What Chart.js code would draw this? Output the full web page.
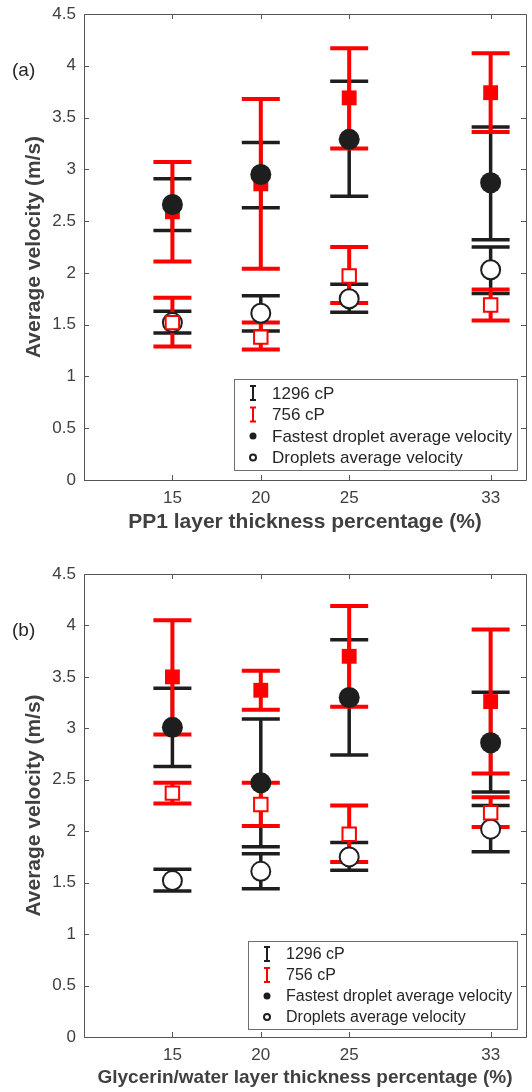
<!DOCTYPE html>
<html>
<head>
<meta charset="utf-8">
<script src="https://cdn.jsdelivr.net/npm/chart.js@4.4.0/dist/chart.umd.min.js"></script>
<style>
html, body { margin: 0; padding: 0; background: #fff; }
.panel { width: 532px; height: 546px; }
canvas { display: block; }
</style>
</head>
<body>
<div class="panel"><canvas id="chartA" width="532" height="546"></canvas></div>
<div class="panel"><canvas id="chartB" width="532" height="546"></canvas></div>
<script>
// x positions (layer thickness %) and axis ticks
const thickness = [15, 20, 25, 33];
const xTickValues = [15, 20, 25, 33];
const yTickStep = 0.5;

// panel (a): PP1 layer
const fastBlackA = [2.66, 2.95, 3.29, 2.87];
const fastBlackALow = [2.41, 2.63, 2.74, 2.32];
const fastBlackAHigh = [2.91, 3.26, 3.85, 3.41];
const fastRedA = [2.59, 2.86, 3.69, 3.74];
const fastRedALow = [2.11, 2.04, 3.20, 3.36];
const fastRedAHigh = [3.07, 3.68, 4.17, 4.12];
const avgBlackA = [1.52, 1.61, 1.75, 2.03];
const avgBlackALow = [1.42, 1.44, 1.62, 1.80];
const avgBlackAHigh = [1.63, 1.78, 1.89, 2.25];
const avgRedA = [1.52, 1.38, 1.97, 1.69];
const avgRedALow = [1.29, 1.26, 1.71, 1.54];
const avgRedAHigh = [1.76, 1.52, 2.25, 1.84];

// panel (b): glycerin/water layer
const fastBlackB = [3.01, 2.47, 3.30, 2.86];
const fastBlackBLow = [2.63, 1.85, 2.74, 2.38];
const fastBlackBHigh = [3.39, 3.09, 3.86, 3.35];
const fastRedB = [3.50, 3.37, 3.70, 3.26];
const fastRedBLow = [2.94, 3.18, 3.21, 2.56];
const fastRedBHigh = [4.05, 3.56, 4.19, 3.96];
const avgBlackB = [1.52, 1.61, 1.75, 2.02];
const avgBlackBLow = [1.42, 1.44, 1.62, 1.80];
const avgBlackBHigh = [1.63, 1.78, 1.89, 2.25];
const avgRedB = [2.37, 2.26, 1.97, 2.18];
const avgRedBLow = [2.27, 2.05, 1.70, 2.04];
const avgRedBHigh = [2.47, 2.47, 2.25, 2.33];

const legendLabels = ["1296 cP", "756 cP", "Fastest droplet average velocity", "Droplets average velocity"];
const legendKinds = ["errBlack", "errRed", "dot", "ring"];

const BLACK = "#1e1e1e";
const RED = "#ff0000";
const TEXT = "#404040";
const FONT = '"Liberation Sans", Arial, Helvetica, sans-serif';

function pts(vals) {
    return vals.map((v, i) => ({ x: thickness[i], y: v }));
}

// error bars go under every marker, black first then red
const errorBarPlugin = {
    id: "errorBars",
    beforeDatasetsDraw(chart) {
        const { ctx, scales: { x, y } } = chart;
        const sets = chart.data.datasets.filter(d => d.errLow).sort((a, b) => a.errLayer - b.errLayer);
        ctx.save();
        ctx.lineCap = "butt";
        for (const ds of sets) {
            ctx.strokeStyle = ds.borderColor;
            ctx.lineWidth = ds.errWidth;
            ds.data.forEach((p, i) => {
                const px = x.getPixelForValue(p.x);
                const top = y.getPixelForValue(ds.errHigh[i]);
                const bot = y.getPixelForValue(ds.errLow[i]);
                ctx.beginPath();
                ctx.moveTo(px, top);
                ctx.lineTo(px, bot);
                ctx.moveTo(px - 19, top);
                ctx.lineTo(px + 19, top);
                ctx.moveTo(px - 19, bot);
                ctx.lineTo(px + 19, bot);
                ctx.stroke();
            });
        }
        ctx.restore();
    }
};

// box with inward ticks on all four sides, like the matlab axes
const framePlugin = {
    id: "frame",
    afterDatasetsDraw(chart) {
        const { ctx, chartArea: a, scales: { x, y } } = chart;
        ctx.save();
        ctx.strokeStyle = "#555";
        ctx.lineWidth = 1;
        ctx.beginPath();
        ctx.rect(Math.round(a.left) + 0.5, Math.round(a.top) + 0.5, Math.round(a.right - a.left), Math.round(a.bottom - a.top));
        for (const t of x.ticks) {
            const px = Math.round(x.getPixelForValue(t.value)) + 0.5;
            ctx.moveTo(px, a.bottom);
            ctx.lineTo(px, a.bottom - 5);
            ctx.moveTo(px, a.top);
            ctx.lineTo(px, a.top + 5);
        }
        for (const t of y.ticks) {
            const py = Math.round(y.getPixelForValue(t.value)) + 0.5;
            ctx.moveTo(a.left, py);
            ctx.lineTo(a.left + 5, py);
            ctx.moveTo(a.right, py);
            ctx.lineTo(a.right - 5, py);
        }
        ctx.stroke();
        ctx.restore();
    }
};

const legendPlugin = {
    id: "boxLegend",
    afterDraw(chart, args, opts) {
        const { ctx, chartArea } = chart;
        ctx.save();
        ctx.font = `${opts.fontSize}px ${FONT}`;
        const textW = Math.max(...legendLabels.map(t => ctx.measureText(t).width));
        const w = Math.round(38 + textW + 5);
        const h = opts.height;
        const left = Math.round(chartArea.right - opts.right - w);
        const top = Math.round(chartArea.bottom - opts.bottom - h);
        ctx.fillStyle = "#fff";
        ctx.fillRect(left, top, w, h);
        ctx.strokeStyle = "#6e6e6e";
        ctx.lineWidth = 1;
        ctx.strokeRect(left + 0.5, top + 0.5, w, h);
        legendLabels.forEach((label, i) => {
            const cy = top + opts.firstRow + i * opts.rowGap;
            const ix = left + 19;
            const kind = legendKinds[i];
            if (kind === "errBlack" || kind === "errRed") {
                ctx.strokeStyle = kind === "errBlack" ? BLACK : RED;
                ctx.lineWidth = 2;
                ctx.beginPath();
                ctx.moveTo(ix, cy - 7);
                ctx.lineTo(ix, cy + 7);
                ctx.moveTo(ix - 3, cy - 7);
                ctx.lineTo(ix + 3, cy - 7);
                ctx.moveTo(ix - 3, cy + 7);
                ctx.lineTo(ix + 3, cy + 7);
                ctx.stroke();
            } else if (kind === "dot") {
                ctx.fillStyle = BLACK;
                ctx.beginPath();
                ctx.arc(ix, cy, 3.5, 0, Math.PI * 2);
                ctx.fill();
            } else {
                ctx.strokeStyle = BLACK;
                ctx.lineWidth = 2;
                ctx.beginPath();
                ctx.arc(ix, cy, 3, 0, Math.PI * 2);
                ctx.stroke();
            }
            ctx.fillStyle = "#262626";
            ctx.textBaseline = "middle";
            ctx.textAlign = "left";
            ctx.fillText(label, left + 38, cy + 1);
        });
        // panel letter
        ctx.font = `19px ${FONT}`;
        ctx.fillStyle = "#262626";
        ctx.fillText(opts.panel, 12, chartArea.top + 57);
        ctx.restore();
    }
};

function buildChart(canvasId, spec) {
    const datasets = [
        {
            label: "avgBlack", data: pts(spec.avgBlack), errLow: spec.avgBlackLow, errHigh: spec.avgBlackHigh,
            errLayer: 1, errWidth: 3.5, order: 4,
            pointStyle: "circle", pointRadius: 9.5, pointBorderWidth: 2,
            borderColor: BLACK, backgroundColor: "#fff"
        },
        {
            label: "avgRed", data: pts(spec.avgRed), errLow: spec.avgRedLow, errHigh: spec.avgRedHigh,
            errLayer: 3, errWidth: 4, order: 3,
            pointStyle: "rect", pointRadius: 9.5, pointBorderWidth: 2,
            borderColor: RED, backgroundColor: "#fff"
        },
        {
            label: "fastRed", data: pts(spec.fastRed), errLow: spec.fastRedLow, errHigh: spec.fastRedHigh,
            errLayer: 4, errWidth: 4, order: 2,
            pointStyle: "rect", pointRadius: 10.5, pointBorderWidth: 0,
            borderColor: RED, backgroundColor: RED
        },
        {
            label: "fastBlack", data: pts(spec.fastBlack), errLow: spec.fastBlackLow, errHigh: spec.fastBlackHigh,
            errLayer: 2, errWidth: 3.5, order: 1,
            pointStyle: "circle", pointRadius: 10.5, pointBorderWidth: 0,
            borderColor: BLACK, backgroundColor: BLACK
        }
    ];

    return new Chart(document.getElementById(canvasId), {
        type: "scatter",
        data: { datasets },
        options: {
            responsive: false,
            animation: false,
            events: [],
            layout: { autoPadding: false, padding: { top: spec.padTop, right: 6, bottom: 0, left: 0 } },
            plugins: {
                legend: { display: false },
                tooltip: { enabled: false },
                boxLegend: spec.legend
            },
            scales: {
                x: {
                    type: "linear",
                    min: 10,
                    max: 35,
                    afterBuildTicks: (scale) => { scale.ticks = xTickValues.map(v => ({ value: v })); },
                    afterFit: (scale) => {
                        scale.height = spec.xAxisHeight;
                        scale.paddingLeft = 0;
                        scale.paddingRight = 0;
                    },
                    grid: { display: false, drawTicks: false },
                    border: { display: false },
                    ticks: {
                        padding: 8,
                        color: TEXT,
                        font: { family: FONT, size: 17 },
                        callback: (v) => String(v)
                    },
                    title: {
                        display: true,
                        text: spec.xTitle,
                        color: TEXT,
                        font: { family: FONT, size: spec.xTitleSize, weight: "bold" },
                        padding: { top: 0, bottom: spec.xTitlePad }
                    }
                },
                y: {
                    min: 0,
                    max: 4.5,
                    afterFit: (scale) => {
                        scale.width = 84;
                        scale.paddingTop = 0;
                        scale.paddingBottom = 0;
                    },
                    grid: { display: false, drawTicks: false },
                    border: { display: false },
                    ticks: {
                        stepSize: yTickStep,
                        padding: 8,
                        color: TEXT,
                        font: { family: FONT, size: 17 },
                        callback: (v) => String(v)
                    },
                    title: {
                        display: true,
                        text: "Average velocity (m/s)",
                        color: TEXT,
                        font: { family: FONT, size: 21, weight: "bold" },
                        padding: { top: 22, bottom: 0 }
                    }
                }
            }
        },
        plugins: [errorBarPlugin, framePlugin, legendPlugin]
    });
}

buildChart("chartA", {
    fastBlack: fastBlackA, fastBlackLow: fastBlackALow, fastBlackHigh: fastBlackAHigh,
    fastRed: fastRedA, fastRedLow: fastRedALow, fastRedHigh: fastRedAHigh,
    avgBlack: avgBlackA, avgBlackLow: avgBlackALow, avgBlackHigh: avgBlackAHigh,
    avgRed: avgRedA, avgRedLow: avgRedALow, avgRedHigh: avgRedAHigh,
    padTop: 14, xAxisHeight: 66,
    xTitle: "PP1 layer thickness percentage (%)", xTitleSize: 21, xTitlePad: 11,
    legend: { fontSize: 17, height: 91, right: 9, bottom: 10, firstRow: 14, rowGap: 21.5, panel: "(a)" }
});

buildChart("chartB", {
    fastBlack: fastBlackB, fastBlackLow: fastBlackBLow, fastBlackHigh: fastBlackBHigh,
    fastRed: fastRedB, fastRedLow: fastRedBLow, fastRedHigh: fastRedBHigh,
    avgBlack: avgBlackB, avgBlackLow: avgBlackBLow, avgBlackHigh: avgBlackBHigh,
    avgRed: avgRedB, avgRedLow: avgRedBLow, avgRedHigh: avgRedBHigh,
    padTop: 28, xAxisHeight: 55,
    xTitle: "Glycerin/water layer thickness percentage (%)", xTitleSize: 19, xTitlePad: 3,
    legend: { fontSize: 16, height: 88, right: 9, bottom: 8, firstRow: 13, rowGap: 21, panel: "(b)" }
});
</script>
</body>
</html>
